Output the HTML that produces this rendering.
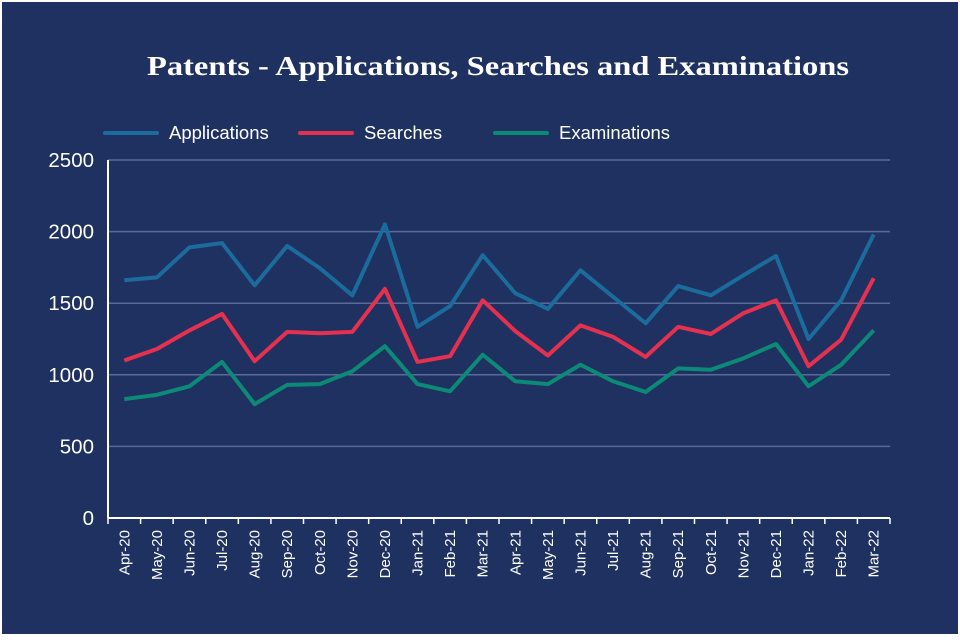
<!DOCTYPE html>
<html><head><meta charset="utf-8"><style>
html,body{margin:0;padding:0;background:#fff}
svg{display:block}
</style></head><body>
<svg id="chart" width="960" height="640" viewBox="0 0 960 640" xmlns="http://www.w3.org/2000/svg">
<rect x="0" y="0" width="960" height="640" fill="#fff"/>
<rect x="2" y="2" width="956" height="632" fill="#1f3160"/>
<text x="147" y="75" textLength="702" lengthAdjust="spacingAndGlyphs" fill="#fff" font-family="Liberation Serif, serif" font-weight="bold" font-size="27">Patents - Applications, Searches and Examinations</text>
<g id="legend" font-family="Liberation Sans, sans-serif" font-size="18.5" fill="#fff"></g>
<g id="grid"></g>
<g id="series"></g>
<g id="axes" font-family="Liberation Sans, sans-serif" fill="#fff"></g>
</svg>
<script>
const categories=["Apr-20","May-20","Jun-20","Jul-20","Aug-20","Sep-20","Oct-20","Nov-20","Dec-20","Jan-21","Feb-21","Mar-21","Apr-21","May-21","Jun-21","Jul-21","Aug-21","Sep-21","Oct-21","Nov-21","Dec-21","Jan-22","Feb-22","Mar-22"];
const applications=[1660,1680,1890,1920,1625,1900,1745,1555,2050,1335,1480,1835,1570,1460,1730,1545,1360,1620,1555,1695,1830,1250,1520,1980];
const searches=[1100,1180,1310,1425,1095,1300,1290,1300,1600,1090,1130,1520,1305,1135,1345,1265,1125,1335,1285,1430,1520,1060,1245,1675];
const examinations=[830,860,920,1090,795,930,935,1025,1200,935,885,1140,955,935,1070,955,880,1045,1035,1115,1215,920,1070,1310];
const yTicks=[0,500,1000,1500,2000,2500];
const NS="http://www.w3.org/2000/svg";
const x0=108,x1=890,yBase=518,yTop=160,yMax=2500;
const step=(x1-x0)/categories.length;
const xs=i=>x0+step*(i+0.5);
const ys=v=>yBase-(v/yMax)*(yBase-yTop);
function mk(tag,attrs,parent){const e=document.createElementNS(NS,tag);for(const k in attrs)e.setAttribute(k,attrs[k]);parent.appendChild(e);return e;}
const grid=document.getElementById('grid'),axes=document.getElementById('axes'),series=document.getElementById('series'),legend=document.getElementById('legend');
yTicks.forEach(t=>{
  if(t>0){const g=mk('line',{x1:x0,x2:x1,y1:ys(t),y2:ys(t),stroke:'#5a6a96','stroke-width':1.5},grid);
  
  }
  const l=mk('text',{x:94,y:ys(t)+7,'text-anchor':'end','font-size':20.5},axes);l.textContent=t;
  
  
});
const ya=mk('line',{x1:x0,x2:x0,y1:yTop,y2:yBase,stroke:'#fff','stroke-width':2},axes);


const xa=mk('line',{x1:x0,x2:x1,y1:yBase,y2:yBase,stroke:'#fff','stroke-width':2},axes);


for(let i=0;i<=categories.length;i++){const tk=mk('line',{x1:x0+step*i,x2:x0+step*i,y1:yBase,y2:yBase+6,stroke:'#fff','stroke-width':1.5},axes);

}
categories.forEach((c,i)=>{const t=mk('text',{x:0,y:0,'text-anchor':'end','font-size':15,transform:`translate(${xs(i)+5},${yBase+12}) rotate(-90)`},axes);t.textContent=c;

});
const defs=[["applications",applications,"#1b6c9c","Applications",105],["searches",searches,"#e6304f","Searches",300],["examinations",examinations,"#0c8a77","Examinations",495]];
defs.forEach(([n,vals,col,lab,lx])=>{
  const p=mk('polyline',{points:vals.map((v,i)=>xs(i)+','+ys(v)).join(' '),fill:'none',stroke:col,'stroke-width':4,'stroke-linejoin':'round'},series);
  
  
  const ll=mk('line',{x1:lx,x2:lx+52,y1:133,y2:133,stroke:col,'stroke-width':4,'stroke-linecap':'round'},legend);
  
  
  const lt=mk('text',{x:lx+64,y:139},legend);lt.textContent=lab;
  
  
});
</script>
</body></html>
